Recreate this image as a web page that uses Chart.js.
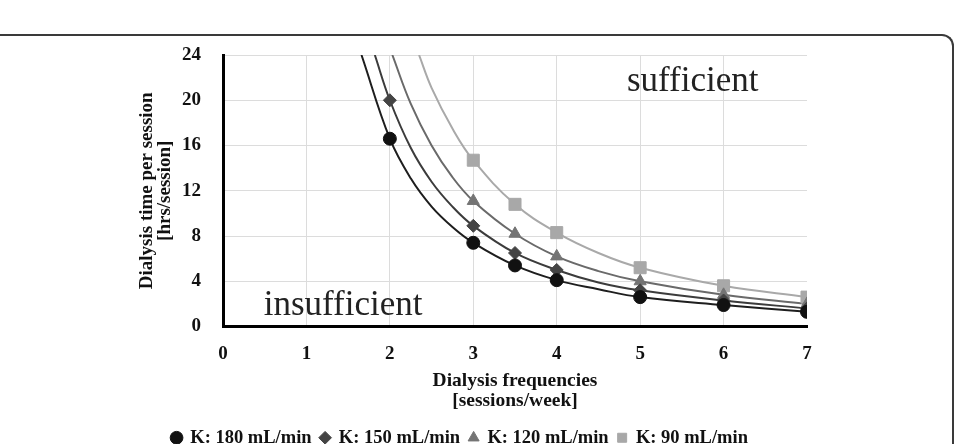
<!DOCTYPE html>
<html>
<head>
<meta charset="utf-8">
<script src="https://cdn.jsdelivr.net/npm/chart.js@4"></script>
<style>
  html, body { margin: 0; padding: 0; background: #fff; }
  #wrap { position: relative; width: 955px; height: 444px; overflow: hidden; }
  #frame {
    position: absolute; left: -20px; top: 34px; width: 974px; height: 500px;
    border-top: 2px solid #3a3a3a; border-right: 2px solid #3a3a3a;
    border-top-right-radius: 12px; box-sizing: border-box;
  }
  canvas { position: absolute; left: -22px; top: 13px; }
</style>
</head>
<body>
<div id="wrap">
  <div id="frame"></div>
  <canvas id="chart" width="977" height="444"></canvas>
</div>
<script>
// measured points (markers)
const freqs = [2, 3, 3.5, 4, 5, 6, 7];
const k180 = [16.6, 7.4, 5.4, 4.1, 2.6, 1.9, 1.3];
const k150 = [20.0, 8.9, 6.5, 5.0, 3.2, 2.3, 1.6];
const k120 = [null, 11.1, 8.2, 6.2, 4.0, 2.8, 2.0];
const k90 = [null, 14.7, 10.8, 8.3, 5.2, 3.6, 2.6];

// fitted curves
const curveX180 = [1.66, 2, 2.25, 2.5, 2.75, 3, 3.5, 4, 4.5, 5, 6, 7];
const curveY180 = [24, 16.6, 13.1, 10.6, 8.8, 7.4, 5.4, 4.1, 3.3, 2.6, 1.9, 1.3];
const curveX150 = [1.82, 2, 2.25, 2.5, 2.75, 3, 3.5, 4, 4.5, 5, 6, 7];
const curveY150 = [24, 20, 15.8, 12.8, 10.6, 8.9, 6.5, 5.0, 3.9, 3.2, 2.3, 1.6];
const curveX120 = [2.03, 2.25, 2.5, 2.75, 3, 3.5, 4, 4.5, 5, 6, 7];
const curveY120 = [24, 19.7, 16.0, 13.2, 11.1, 8.2, 6.2, 4.9, 4.0, 2.8, 2.0];
const curveX90 = [2.35, 2.5, 2.75, 3, 3.5, 4, 4.5, 5, 6, 7];
const curveY90 = [24, 21.1, 17.5, 14.7, 10.8, 8.3, 6.5, 5.2, 3.6, 2.6];

const labels = ["K: 180 mL/min", "K: 150 mL/min", "K: 120 mL/min", "K: 90 mL/min"];
const yTicks = [0, 4, 8, 12, 16, 20, 24];
const xTicks = [0, 1, 2, 3, 4, 5, 6, 7];

const FONT = "'Liberation Serif', 'DejaVu Serif', serif";

function pts(xs, ys) {
  return xs.map((x, i) => ({ x: x, y: ys[i] })).filter((p) => p.y !== null);
}

function curve(xs, ys, color) {
  return {
    label: "",
    type: "line",
    data: pts(xs, ys),
    borderColor: color,
    borderWidth: 2,
    pointRadius: 0,
    tension: 0.4,
    fill: false,
    order: 2,
  };
}

function markers(label, ys, color, style, radius) {
  return {
    label: label,
    type: "scatter",
    data: pts(freqs, ys),
    backgroundColor: color,
    borderColor: color,
    pointStyle: style,
    pointRadius: radius,
    pointHoverRadius: radius,
    showLine: false,
    order: 1,
  };
}

// "sufficient" / "insufficient" labels placed in data coordinates
const regionText = {
  id: "regionText",
  afterDatasetsDraw(chart) {
    const { ctx, scales } = chart;
    ctx.save();
    ctx.fillStyle = "#222";
    ctx.font = "35px " + FONT;
    ctx.textAlign = "center";
    ctx.textBaseline = "middle";
    ctx.fillText("sufficient", scales.x.getPixelForValue(5.63), scales.y.getPixelForValue(21.6));
    ctx.fillText("insufficient", scales.x.getPixelForValue(1.44), scales.y.getPixelForValue(1.8));
    ctx.restore();
  },
};

new Chart(document.getElementById("chart"), {
  type: "scatter",
  data: {
    datasets: [
      curve(curveX180, curveY180, "#1e1e1e"),
      curve(curveX150, curveY150, "#3c3c3c"),
      curve(curveX120, curveY120, "#6a6a6a"),
      curve(curveX90, curveY90, "#a9a9a9"),
      markers(labels[0], k180, "#111111", "circle", 6.5),
      markers(labels[1], k150, "#444444", "rectRot", 6.5),
      markers(labels[2], k120, "#747474", "triangle", 7),
      markers(labels[3], k90, "#a8a8a8", "rect", 8.5),
    ],
  },
  options: {
    responsive: false,
    animation: false,
    layout: { padding: { left: 135, right: 148, top: 42, bottom: 0 } },
    plugins: {
      tooltip: { enabled: false },
      legend: {
        position: "bottom",
        labels: {
          filter: (item) => item.text !== "",
          usePointStyle: true,
          boxWidth: 9,
          boxHeight: 9,
          padding: 9,
          color: "#111",
          font: { family: FONT, size: 18.5, weight: "bold" },
        },
      },
    },
    scales: {
      x: {
        type: "linear",
        min: 0,
        max: 7,
        afterBuildTicks: (s) => { s.ticks = xTicks.map((v) => ({ value: v })); },
        border: { display: true, color: "#000", width: 3 },
        grid: {
          drawTicks: false,
          color: (c) => (c.tick && (c.tick.value === 0 || c.tick.value === 7) ? "rgba(0,0,0,0)" : "#dcdcdc"),
        },
        ticks: { padding: 16, color: "#111", font: { family: FONT, size: 19, weight: "bold" } },
        title: {
          display: true,
          text: ["Dialysis frequencies", "[sessions/week]"],
          color: "#111",
          padding: { top: -10, bottom: 8 },
          font: { family: FONT, size: 19.5, weight: "bold", lineHeight: 1.03 },
        },
      },
      y: {
        min: 0,
        max: 24,
        afterBuildTicks: (s) => { s.ticks = yTicks.map((v) => ({ value: v })); },
        afterFit: (s) => { s.width = 245 - 135; },
        border: { display: true, color: "#000", width: 3 },
        grid: {
          drawTicks: false,
          color: (c) => (c.tick && c.tick.value === 0 ? "rgba(0,0,0,0)" : "#dcdcdc"),
        },
        ticks: { padding: 22, color: "#111", font: { family: FONT, size: 19, weight: "bold" } },
        title: {
          display: true,
          text: ["Dialysis time per session", "[hrs/session]"],
          color: "#111",
          padding: { top: 25, bottom: 0 },
          font: { family: FONT, size: 19, weight: "bold", lineHeight: 0.95 },
        },
      },
    },
  },
  plugins: [regionText],
});
</script>
</body>
</html>
